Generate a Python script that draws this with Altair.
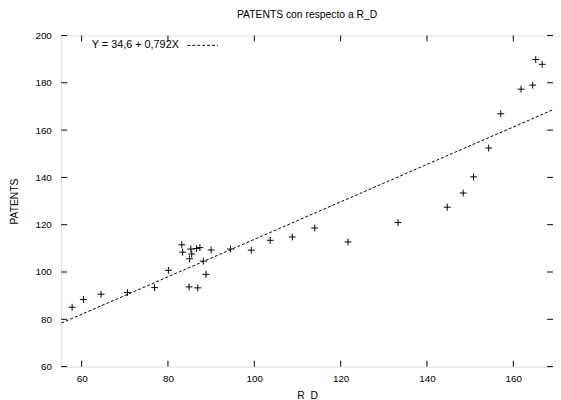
import altair as alt
import pandas as pd

# Data
rd = [57.8, 60.4, 64.5, 70.6, 76.9, 80.1, 84.9, 86.9, 88.8, 88.2, 85.0, 85.5,
      83.4, 83.2, 85.3, 86.6, 87.4, 90.0, 94.5, 99.3, 103.7, 108.8, 114.0,
      121.7, 133.3, 144.7, 148.4, 150.8, 154.3, 157.1, 161.8, 164.5, 165.2, 166.7]
patents = [85.1, 88.4, 90.6, 91.3, 93.4, 100.7, 93.7, 93.3, 99.0, 104.6, 105.6,
           107.6, 108.4, 111.5, 109.7, 109.9, 110.3, 109.3, 109.7, 109.2, 113.4,
           114.8, 118.6, 112.7, 120.9, 127.4, 133.4, 140.2, 152.4, 166.9, 177.3,
           179.0, 189.8, 187.8]

# Fitted line shown in the legend: Y = 34,6 + 0,792X
intercept = 34.6
slope = 0.792
legend_label = "Y = 34,6 + 0,792X"
title_text = "PATENTS con respecto a R_D"

x_domain = [55.27, 169.2]
y_domain = [60, 200]
x_ticks = [60, 80, 100, 120, 140, 160]
y_ticks = [60, 80, 100, 120, 140, 160, 180, 200]

W, H = 499, 336
FONT = "Liberation Sans"
TL = 6  # inward tick length

df = pd.DataFrame({"rd": rd, "patents": patents})
line_df = pd.DataFrame({"rd": x_domain})
xt_df = pd.DataFrame({"v": x_ticks})
yt_df = pd.DataFrame({"v": y_ticks})

xs = alt.Scale(domain=x_domain, nice=False, zero=False)
ys = alt.Scale(domain=y_domain, nice=False, zero=False)

xaxis = alt.Axis(values=x_ticks, ticks=False, tickSize=0, domain=False, grid=False,
                 labelFont=FONT, labelFontSize=10, labelColor="black", labelPadding=7,
                 titleFont=FONT, titleFontSize=10.5, titleFontWeight="normal",
                 titleColor="black", titleY=29, titleBaseline="middle")
yaxis = alt.Axis(values=y_ticks, ticks=False, tickSize=0, domain=False, grid=False,
                 labelFont=FONT, labelFontSize=10, labelColor="black", labelPadding=10,
                 titleFont=FONT, titleFontSize=10.5, titleFontWeight="normal",
                 titleColor="black", titleX=-47, titleY=H / 2, titleAngle=270,
                 titleAlign="center", titleBaseline="middle")


def X(field):
    return alt.X(field, type="quantitative", scale=xs, axis=xaxis, title="R_D")


def Y(field):
    return alt.Y(field, type="quantitative", scale=ys, axis=yaxis, title="PATENTS")


points = alt.Chart(df).mark_point(
    shape="M-1,0L1,0M0,-1L0,1", size=49, filled=False,
    stroke="black", strokeWidth=1, opacity=1
).encode(x=X("rd"), y=Y("patents"))

fit = alt.Chart(line_df).transform_calculate(
    fitted=f"{intercept} + {slope} * datum.rd"
).mark_line(color="black", strokeWidth=1, strokeDash=[3, 2], clip=True).encode(
    x=X("rd"), y=Y("fitted")
)

xt_bottom = alt.Chart(xt_df).mark_rule(color="black", strokeWidth=1).encode(
    x=X("v"), y=alt.value(H), y2=alt.value(H - TL))
xt_top = alt.Chart(xt_df).mark_rule(color="black", strokeWidth=1).encode(
    x=X("v"), y=alt.value(0), y2=alt.value(TL))
yt_left = alt.Chart(yt_df).mark_rule(color="black", strokeWidth=1).encode(
    y=Y("v"), x=alt.value(0), x2=alt.value(TL))
yt_right = alt.Chart(yt_df).mark_rule(color="black", strokeWidth=1).encode(
    y=Y("v"), x=alt.value(W - TL), x2=alt.value(W))

leg_text = alt.Chart(pd.DataFrame({"t": [legend_label]})).mark_text(
    align="left", baseline="middle", font=FONT, fontSize=11, color="black"
).encode(x=alt.value(31), y=alt.value(10), text="t:N")
leg_line = alt.Chart(pd.DataFrame({"t": [legend_label]})).mark_rule(
    color="black", strokeWidth=1, strokeDash=[3, 2]
).encode(x=alt.value(128), x2=alt.value(159), y=alt.value(10))

title = alt.Chart(pd.DataFrame({"t": [title_text]})).mark_text(
    align="center", baseline="middle", font=FONT, fontSize=10.5, color="black"
).encode(x=alt.value(W / 2), y=alt.value(-21), text="t:N")

chart = alt.layer(
    fit, points, xt_bottom, xt_top, yt_left, yt_right, leg_text, leg_line, title
).properties(
    width=W, height=H,
    autosize=alt.AutoSizeParams(type="none"),
    padding={"left": 54, "top": 25, "right": 0, "bottom": 31},
).configure_view(stroke="black", strokeWidth=1).configure(background="white")

chart.save("out.html", embed_options={"renderer": "svg", "actions": False})
